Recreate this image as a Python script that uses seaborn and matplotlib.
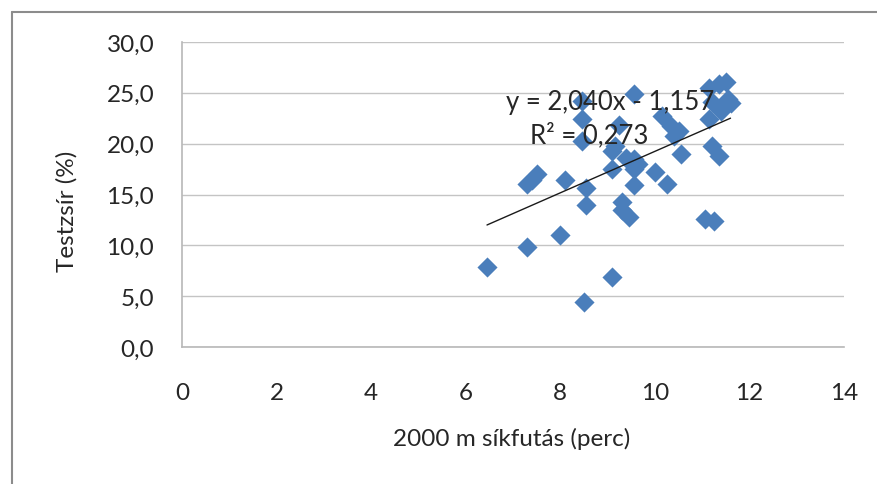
import matplotlib
matplotlib.use("Agg")
import matplotlib.pyplot as plt
from matplotlib.lines import Line2D
import numpy as np
import pandas as pd
import seaborn as sns

# 2000 m run time (minutes) vs. body fat (%)
run_minutes = [6.45, 7.3, 8.0, 7.3, 7.4, 7.5, 8.1, 8.55, 8.55, 8.5, 9.1,
               8.45, 8.45, 8.45, 9.1, 9.1, 9.15, 9.25, 9.3, 9.3, 9.45,
               9.4, 9.55, 9.55, 9.55, 9.55, 9.65, 10.0, 10.25, 10.4,
               10.15, 10.35, 10.5, 10.55, 11.05, 11.25, 11.2, 11.35,
               11.15, 11.2, 11.4, 11.55, 11.15, 11.35, 11.5, 11.6]
body_fat = [7.9, 9.8, 11.0, 16.0, 16.4, 17.0, 16.4, 15.6, 14.0, 4.4, 6.9,
            20.3, 22.4, 24.2, 17.5, 19.3, 19.8, 21.8, 14.3, 13.5, 12.8,
            18.6, 18.5, 17.5, 15.9, 24.9, 18.0, 17.2, 16.0, 20.8,
            22.7, 21.7, 21.2, 19.0, 12.6, 12.4, 19.8, 18.8,
            22.4, 24.1, 23.2, 24.4, 25.5, 25.9, 26.1, 24.0]

# linear trendline coefficients and fit quality
slope = 2.040
intercept = -1.157
r_squared = 0.273

x_ticks = [0, 2, 4, 6, 8, 10, 12, 14]
y_ticks = [0, 5, 10, 15, 20, 25, 30]

sns.set_theme(style="white")
plt.rcParams["font.family"] = ["Lato", "DejaVu Sans"]

FS = 17.5
TXT = "#262626"

fig = plt.figure(figsize=(8.77, 4.85), dpi=100)
ax = fig.add_axes([182 / 877, 1 - 348 / 485, (844 - 182) / 877, (348 - 43) / 485])

df = pd.DataFrame({"x": run_minutes, "y": body_fat})
sns.scatterplot(data=df, x="x", y="y", marker="D", s=105, color="#4a7ebb",
                linewidth=0, ax=ax, zorder=3)

xline = np.array([min(run_minutes), max(run_minutes)])
trend = pd.DataFrame({"x": xline, "y": slope * xline + intercept})
sns.lineplot(data=trend, x="x", y="y", color="#1a1a1a", linewidth=1.0,
             ax=ax, zorder=4)

fmt = lambda v: f"{v:.3f}".replace(".", ",")
ax.text(9.05, 24.1, f"y = {fmt(slope)}x - {fmt(abs(intercept))}", ha="center",
        va="center", fontsize=18.5, color=TXT, zorder=5)
ax.text(8.62, 20.9, f"R² = {fmt(r_squared)}", ha="center", va="center",
        fontsize=18.5, color=TXT, zorder=5)

ax.set_xlim(0, 14)
ax.set_ylim(0, 30)
ax.set_xticks(x_ticks)
ax.set_xticklabels([str(t) for t in x_ticks])
ax.set_yticks(y_ticks)
ax.set_yticklabels([f"{t:.1f}".replace(".", ",") for t in y_ticks])
ax.tick_params(axis="x", length=0, pad=25, labelsize=FS, labelcolor=TXT)
ax.tick_params(axis="y", length=0, pad=20, labelsize=FS, labelcolor=TXT)

ax.yaxis.grid(True, color="#c4c4c4", linewidth=1.0)
ax.xaxis.grid(False)
ax.set_axisbelow(True)
for side in ["top", "right"]:
    ax.spines[side].set_visible(False)
for side in ["left", "bottom"]:
    ax.spines[side].set_color("#b8b8b8")
    ax.spines[side].set_linewidth(1.2)

ax.set_xlabel("2000 m síkfutás (perc)", fontsize=FS, color=TXT)
ax.set_ylabel("Testzsír (%)", fontsize=FS, color=TXT)
ax.xaxis.set_label_coords((512 - 182) / (844 - 182), -(428 - 348) / (348 - 43))
ax.yaxis.set_label_coords(-(182 - 78) / (844 - 182), (348 - 211) / (348 - 43))

# chart frame (left and top edges)
fig.add_artist(Line2D([12 / 877, 12 / 877], [0, 1 - 13 / 485],
                      transform=fig.transFigure, color="#8c8c8c", linewidth=1.5))
fig.add_artist(Line2D([12 / 877, 1], [1 - 13 / 485, 1 - 13 / 485],
                      transform=fig.transFigure, color="#8c8c8c", linewidth=1.5))

fig.savefig("out.png", dpi=100)
